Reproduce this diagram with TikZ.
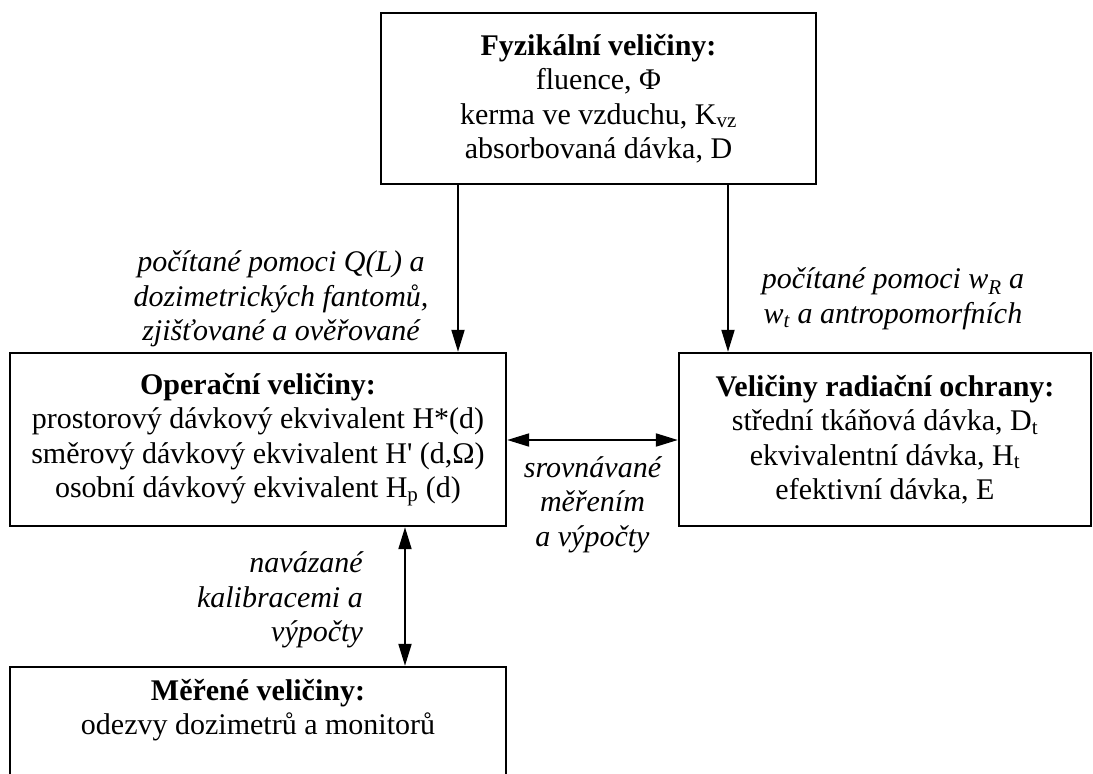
\documentclass[tikz,border=0pt]{standalone}
\usepackage{fontspec}
\setmainfont{Liberation Serif}
\usetikzlibrary{arrows.meta}
\newcommand\sq{\XeTeXglyph\XeTeXcharglyph"27\relax}
\begin{document}
\begin{tikzpicture}[x=1pt,y=-1pt,
  box/.style={draw, line width=2.4pt, inner sep=0pt, align=center, font=\fontsize{30}{34.5}\selectfont},
  txt/.style={inner sep=0pt, align=center, font=\fontsize{30}{34.5}\selectfont},
  lbl/.style={inner sep=0pt, font=\fontsize{30}{34.5}\selectfont\itshape},
  arr/.style={line width=2pt, -{Triangle[length=22pt,width=13pt]}},
  darr/.style={line width=2pt, {Triangle[length=22pt,width=13pt]}-{Triangle[length=22pt,width=13pt]}}]
\useasboundingbox (0,0) rectangle (1093,774);

\node[box, minimum width=435pt, minimum height=171pt] (fyz) at (598.5,98.5)
  {\textbf{Fyzikální veličiny:}\\ fluence, Φ\\ kerma ve vzduchu, K\textsubscript{vz}\\ absorbovaná dávka, D};

\node[box, minimum width=496pt, minimum height=173pt] (op) at (258,439.5)
  {\textbf{Operační veličiny:}\\ prostorový dávkový ekvivalent H*(d)\\ směrový dávkový ekvivalent H\sq{} (d,Ω)\\ osobní dávkový ekvivalent H\textsubscript{p} (d)};

\node[box, minimum width=412pt, minimum height=173pt] (vro) at (885,439.5)
  {\textbf{Veličiny radiační ochrany:}\\ střední tkáňová dávka, D\textsubscript{t}\\ ekvivalentní dávka, H\textsubscript{t}\\ efektivní dávka, E};

\node[draw, line width=2.4pt, inner sep=0pt, minimum width=496pt, minimum height=123pt] (mer) at (258,728.5) {};
\node[txt] (mertxt) at (258,710) {\textbf{Měřené veličiny:}\\ odezvy dozimetrů a monitorů};

\coordinate (ca) at (458,0);
\coordinate (cb) at (728,0);
\coordinate (cc) at (0,440);
\coordinate (cd) at (405,0);

\draw[arr] (ca |- fyz.south) -- (ca |- op.north);
\draw[arr] (cb |- fyz.south) -- (cb |- vro.north);
\draw[darr] (op.east |- cc) -- (vro.west |- cc);
\draw[darr] (cd |- op.south) -- (cd |- mer.north);

\node[lbl, align=center] (l1) at (281,299) {počítané pomoci Q(L) a\\ dozimetrických fantomů,\\ zjišťované a ověřované};
\node[lbl, align=center] (l2) at (893,299) {počítané pomoci w\textsubscript{R} a\\ w\textsubscript{t} a antropomorfních};
\node[lbl, align=center] (l3) at (592.5,504.5) {srovnávané\\ měřením\\ a výpočty};
\node[lbl, align=right, anchor=east] (l4) at (363,600) {navázané\\ kalibracemi a\\ výpočty};
\end{tikzpicture}
\end{document}
